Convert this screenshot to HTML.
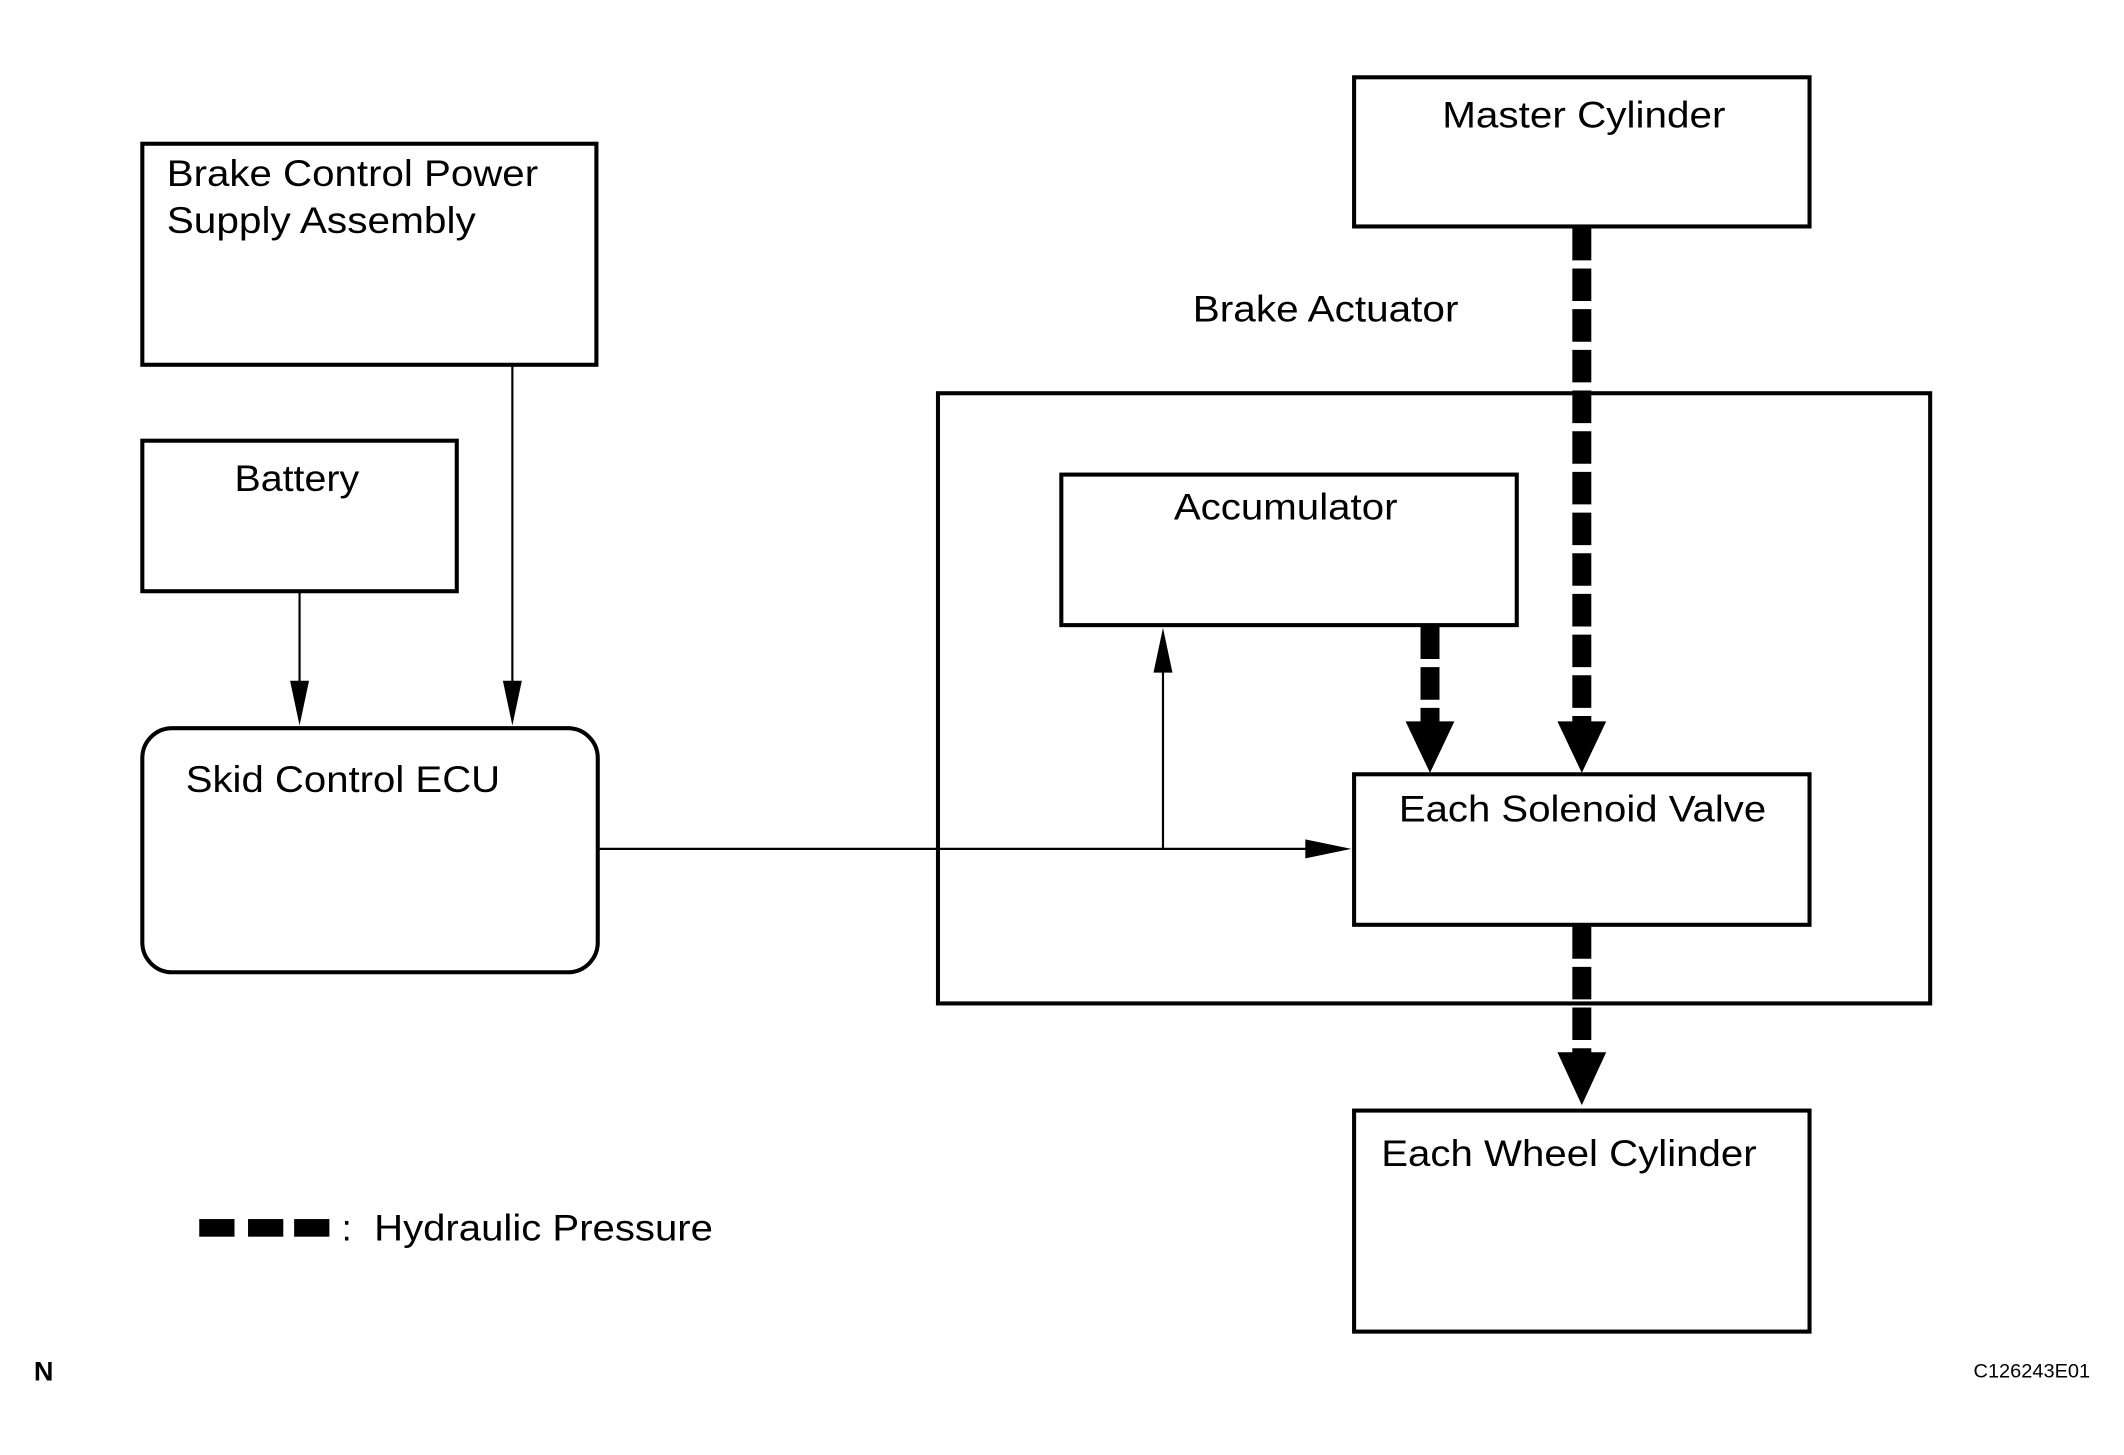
<!DOCTYPE html>
<html><head><style>html,body{margin:0;padding:0;background:#fff}svg{display:block}</style></head>
<body>
<svg width="2124" height="1455" viewBox="0 0 1567 1073" preserveAspectRatio="none" xmlns="http://www.w3.org/2000/svg" font-family="Liberation Sans, Arial, sans-serif">
<g fill="none" stroke="#000" stroke-width="3">
<rect x="105" y="106" width="335" height="163"/>
<rect x="105" y="325" width="232" height="111"/>
<rect x="105" y="537" width="336" height="180" rx="22"/>
<rect x="999" y="57" width="336" height="110"/>
<rect x="692" y="290" width="732" height="450"/>
<rect x="783" y="350" width="336" height="111"/>
<rect x="999" y="571" width="336" height="111"/>
<rect x="999" y="819" width="336" height="163"/>
</g>
<g stroke="#000" stroke-width="1.6" fill="none">
<line x1="221" y1="436" x2="221" y2="505"/>
<line x1="378" y1="269" x2="378" y2="505"/>
<line x1="441" y1="626" x2="965" y2="626"/>
<line x1="858" y1="626" x2="858" y2="494"/>
</g>
<g fill="#000">
<polygon points="214,502 228,502 221,535"/>
<polygon points="371,502 385,502 378,535"/>
<polygon points="963,619 963,633 997,626"/>
<polygon points="851,496 865,496 858,463"/>
</g>
<g stroke="#000" stroke-width="14" stroke-dasharray="24 6" fill="none">
<line x1="1167" y1="168" x2="1167" y2="534"/>
<line x1="1055" y1="462" x2="1055" y2="534"/>
<line x1="1167" y1="683" x2="1167" y2="778"/>
</g>
<g fill="#000">
<polygon points="1149,532 1185,532 1167,570"/>
<polygon points="1037,532 1073,532 1055,570"/>
<polygon points="1149,776 1185,776 1167,815"/>
<rect x="147" y="899" width="26" height="13"/>
<rect x="183" y="899" width="26" height="13"/>
<rect x="217" y="899" width="26" height="13"/>
</g>
<g font-size="27" fill="#000">
<text x="123" y="137" textLength="274" lengthAdjust="spacingAndGlyphs">Brake Control Power</text>
<text x="123" y="172" textLength="228" lengthAdjust="spacingAndGlyphs">Supply Assembly</text>
<text x="173" y="362" textLength="92" lengthAdjust="spacingAndGlyphs">Battery</text>
<text x="137" y="584" textLength="232" lengthAdjust="spacingAndGlyphs">Skid Control ECU</text>
<text x="1064" y="94" textLength="209" lengthAdjust="spacingAndGlyphs">Master Cylinder</text>
<text x="880" y="237" textLength="196" lengthAdjust="spacingAndGlyphs">Brake Actuator</text>
<text x="866" y="383" textLength="165" lengthAdjust="spacingAndGlyphs">Accumulator</text>
<text x="1032" y="606" textLength="271" lengthAdjust="spacingAndGlyphs">Each Solenoid Valve</text>
<text x="1019" y="860" textLength="277" lengthAdjust="spacingAndGlyphs">Each Wheel Cylinder</text>
<text x="252" y="915">:</text>
<text x="276" y="915" textLength="250" lengthAdjust="spacingAndGlyphs">Hydraulic Pressure</text>
</g>
<text x="25" y="1018" font-size="20" font-weight="bold">N</text>
<text x="1542" y="1016" font-size="14" text-anchor="end" textLength="86" lengthAdjust="spacingAndGlyphs">C126243E01</text>
</svg>
</body></html>
